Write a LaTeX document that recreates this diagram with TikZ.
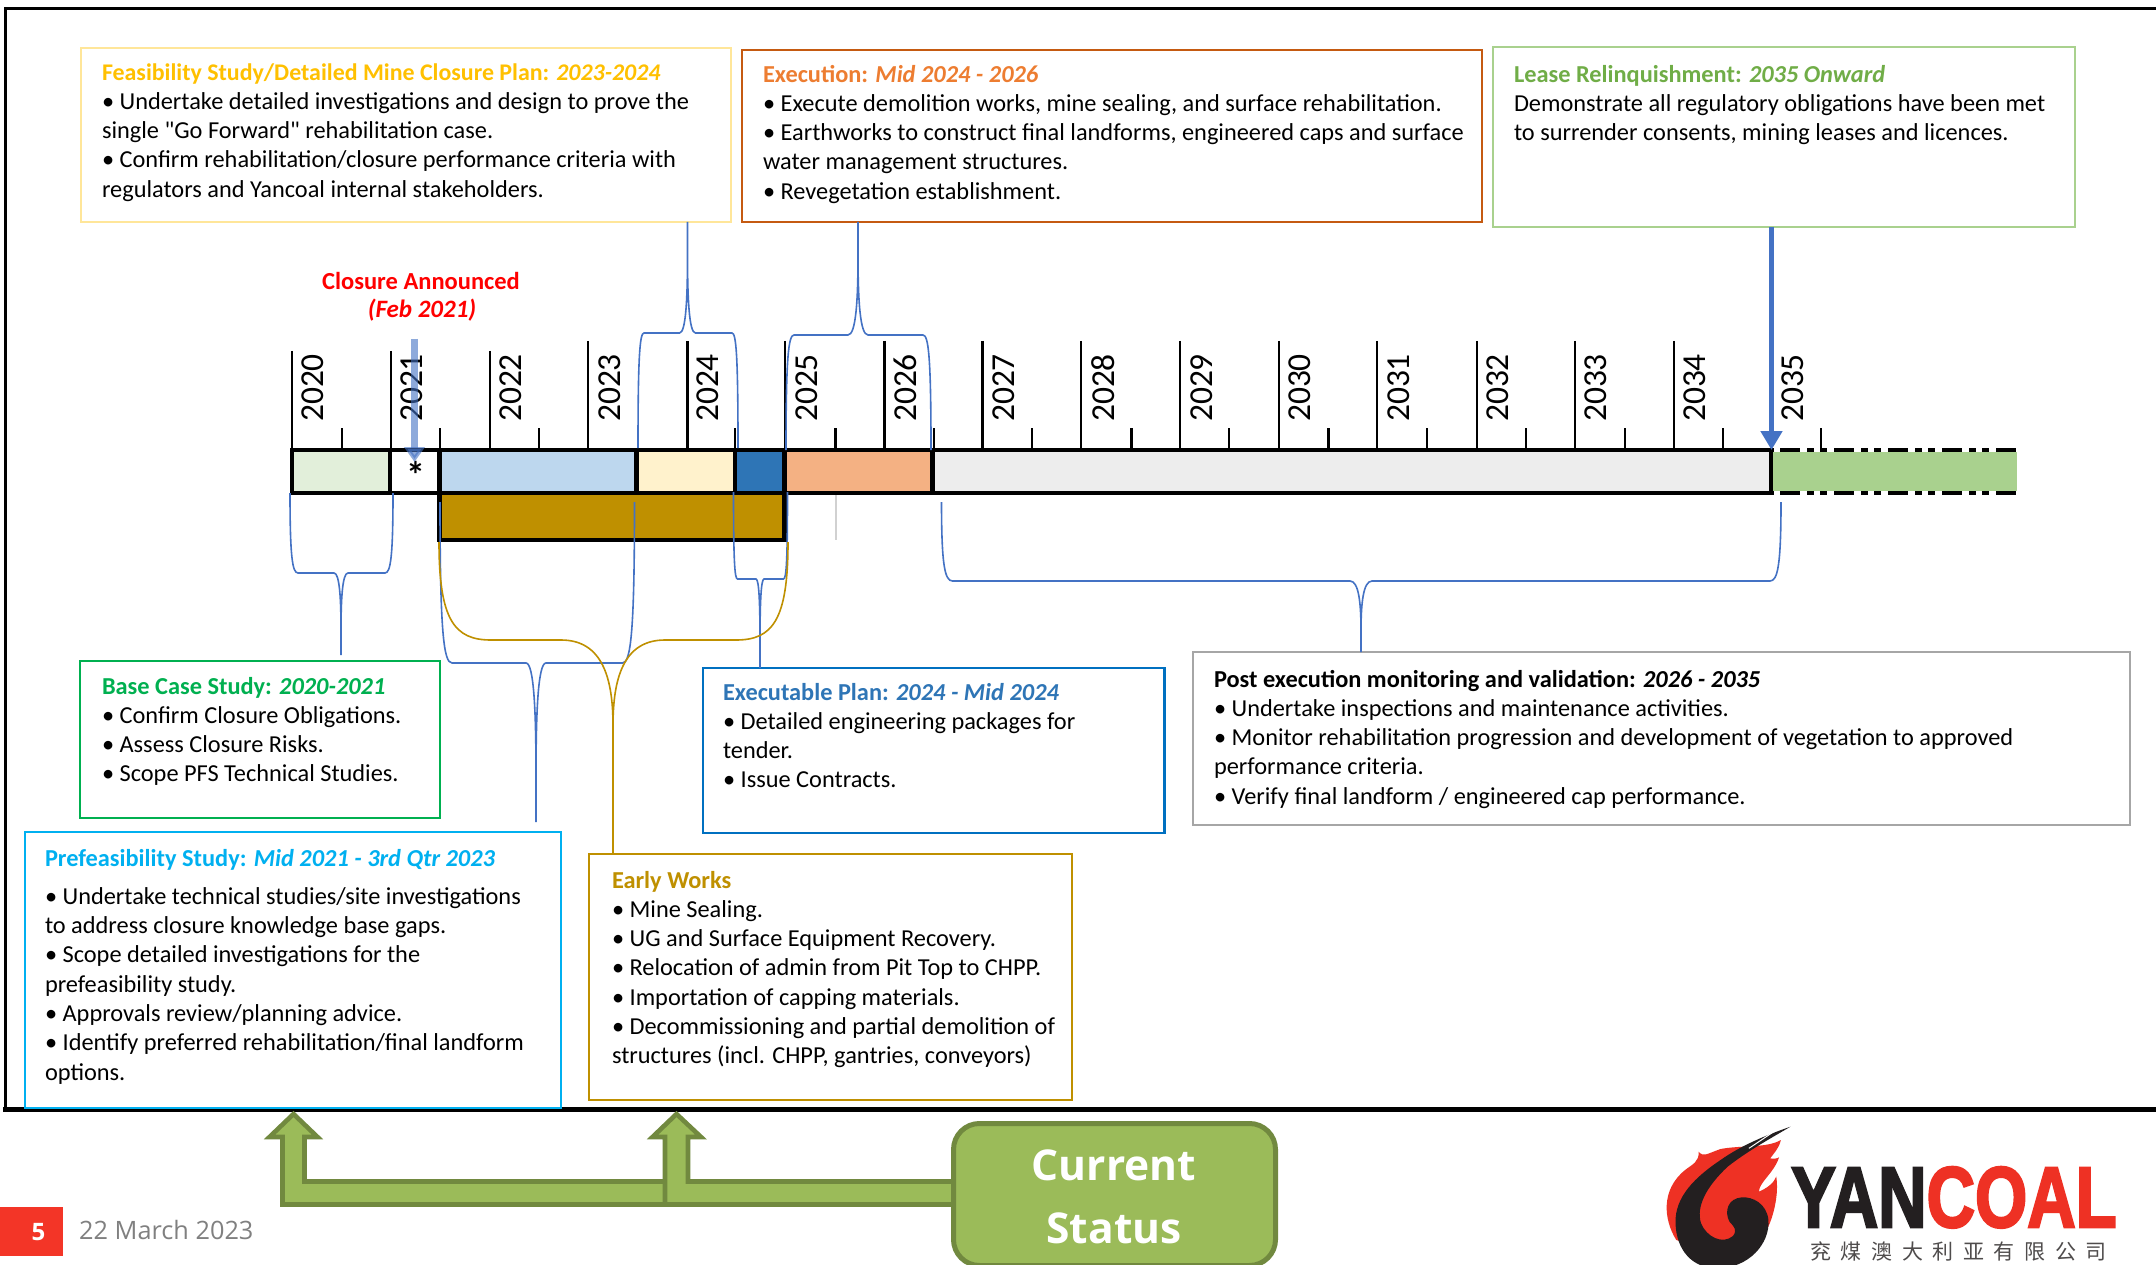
\documentclass[tikz,border=0pt]{standalone}
\usepackage{fontspec}
\setmainfont{Carlito}
\newfontfamily\plainq[Ligatures=ResetAll]{Carlito}
\newfontfamily\opensans{Open Sans}
\newfontfamily\logofont[FakeBold=3]{Liberation Sans Bold}
\newfontfamily\cjkfont[LetterSpace=46]{Noto Sans CJK SC}
\usetikzlibrary{arrows.meta,calc}
\definecolor{bluebrace}{HTML}{4472C4}
\definecolor{goldc}{HTML}{BF9000}
\definecolor{greenfill}{HTML}{9BBB59}
\definecolor{greenedge}{HTML}{71893F}
\definecolor{logored}{HTML}{EE3124}
\definecolor{logoblack}{HTML}{231F20}
\definecolor{segA}{HTML}{E2EFDA}
\definecolor{segB}{HTML}{BDD7EE}
\definecolor{segC}{HTML}{FFF2CC}
\definecolor{segD}{HTML}{2E75B6}
\definecolor{segE}{HTML}{F4B183}
\definecolor{segF}{HTML}{EDEDED}
\definecolor{segG}{HTML}{A9D18E}
\definecolor{edgeFeas}{HTML}{FFE699}
\definecolor{edgeExec}{HTML}{C55A11}
\definecolor{edgeBase}{HTML}{00B050}
\definecolor{edgePref}{HTML}{00B0F0}
\definecolor{edgePlan}{HTML}{0070C0}
\definecolor{edgePost}{HTML}{A6A6A6}
\definecolor{ttlFeas}{HTML}{FFC000}
\definecolor{ttlExec}{HTML}{ED7D31}
\definecolor{ttlLease}{HTML}{70AD47}
\definecolor{pagered}{HTML}{F33527}
\tikzset{
  phase/.style={rectangle,line width=2.6pt,fill=white,inner sep=0pt,outer sep=0pt},
  phasetext/.style={anchor=north west,align=left,inner sep=0pt,outer sep=0pt,font=\fontsize{24.35}{29.3}\selectfont},
  seg/.style={rectangle,draw=black,line width=4.6pt,inner sep=0pt,outer sep=0pt,minimum height=43pt},
  yearlabel/.style={rotate=90,anchor=center,inner sep=0pt,font=\fontsize{33.5}{33.5}\selectfont},
  tick/.style={line width=2.2pt,black},
  bracecurve/.style={line width=1.6pt,bluebrace},
  goldcurve/.style={line width=1.6pt,goldc},
  bentarrow/.style={fill=greenfill,draw=greenedge,line width=4.6pt,miter limit=10},
}
\newcommand{\phasebox}[6]{\node[phase,draw=#6,minimum width={#4-#2},minimum height={#5-#3},anchor=north west] (#1) at (#2,#3) {};}
\newcommand{\barseg}[4]{\node[seg,fill=#4,minimum width={#3-#2}] (#1) at ({(#2+#3)/2},471.5) {};}
% name, x1, x2, tip x, y1, ym, y tip, corner, tip half width
\newcommand{\tipfrac}{0.7}
\newcommand{\phasebrace}[9]{%
  \pgfmathsetmacro{\hA}{#6-#5}\pgfmathsetmacro{\hB}{#7-#6}%
  \pgfmathsetmacro{\cA}{#8}\pgfmathsetmacro{\kA}{#9}%
  \pgfmathsetmacro{\hE}{\tipfrac*\hB}\pgfmathsetmacro{\hC}{0.45*\hE}%
  \coordinate (#1a) at (#2,#5);\coordinate (#1b) at (#3,#5);\coordinate (#1t) at (#4,#7);%
  \draw[\bracestyle] (#1a) .. controls (#2,#5+0.8*\hA) and ({#2+0.3*\cA},#6) .. ({#2+\cA},#6)
    -- ({#4-\kA},#6) .. controls ({#4-0.2*\kA},#6) and (#4,#6+\hC) .. (#4,#6+\hE)
    -- (#1t) -- (#4,#6+\hE) .. controls (#4,#6+\hC) and ({#4+0.2*\kA},#6) .. ({#4+\kA},#6)
    -- ({#3-\cA},#6) .. controls ({#3-0.3*\cA},#6) and (#3,#5+0.8*\hA) .. (#1b);%
}
\newcommand{\bracestyle}{bracecurve}
\newcommand{\ttl}[3]{{\color{#1}\bfseries #2 \textit{#3}}}
\begin{document}
\begin{tikzpicture}[x=1pt,y=-1pt]
\useasboundingbox (0,0) rectangle (2156,1265);
\fill[white] (0,0) rectangle (2156,1265);
% frame
\draw[black,line width=3.4pt] (2156,8.5) -- (5.5,8.5) -- (5.5,1109);
\draw[black,line width=5pt] (3,1109) -- (2156,1109);

% ticks and year labels
\foreach \yr/\xx/\tp in {2020/292/351,2021/391/351,2022/490/351,2023/588/341,2024/687.5/341,2025/785/341,2026/884.5/341,2027/982.5/341,2028/1081/341,2029/1180/341,2030/1279/341,2031/1377/341,2032/1477/341,2033/1575/341,2034/1674/341}{
  \draw[tick] (\xx,\tp) -- (\xx,450);
}
\foreach \xx in {342,440,539,638,735,835.5,934,1032,1131.5,1229,1328.5,1427,1525.6,1625,1722.6,1821}{
  \draw[tick] (\xx,428) -- (\xx,450);
}
\foreach \yr/\xx in {2020/313,2021/412,2022/511,2023/610,2024/708,2025/807,2026/905,2027/1004,2028/1103,2029/1202,2030/1300,2031/1399,2032/1498,2033/1596,2034/1695,2035/1793}{
  \node[yearlabel] (y\yr) at (\xx,388) {\yr};
}

% timeline
\node[rectangle,fill=goldc,draw=black,line width=4.5pt,inner sep=0pt,outer sep=0pt,minimum width=345pt,minimum height=47pt] (goldbar) at (612,516.5) {};
\draw[line width=2pt,black!18] (835.5,495) -- (835.5,540);
\barseg{s2020}{292}{390}{segA}
\barseg{s2021}{390}{439.5}{white}
\barseg{s2022}{439.5}{636.5}{segB}
\barseg{s2023}{636.5}{735}{segC}
\barseg{s2024}{735}{784.5}{segD}
\barseg{s2025}{784.5}{932.5}{segE}
\barseg{s2027}{932.5}{1771.5}{segF}
\fill[segG] (1773,452) rectangle (2017,491);
\draw[line width=4.5pt,dash pattern=on 20pt off 7pt on 7pt off 6pt on 7pt off 7pt] (1780,450) -- (2017,450);
\draw[line width=4.5pt,dash pattern=on 20pt off 7pt on 7pt off 6pt on 7pt off 7pt] (1780,493) -- (2017,493);
\node[font=\fontsize{38}{38}\selectfont\bfseries,inner sep=0pt] (star) at (416,475) {*};

% phase boxes
\phasebox{feas}{81}{48}{731}{222}{edgeFeas}
\phasebox{exec}{742}{50}{1482}{222}{edgeExec}
\phasebox{lease}{1493}{47}{2075}{227}{segG}
\phasebox{base}{80}{661}{440}{818}{edgeBase}
\phasebox{pref}{25}{832}{561}{1108}{edgePref}
\phasebox{early}{589}{854}{1072}{1100}{goldc}
\phasebox{plan}{703}{668}{1164.5}{833}{edgePlan}
\phasebox{post}{1193}{652}{2130}{825}{edgePost}

% braces
\phasebrace{bb}{290}{393}{341}{493}{573}{655}{8}{7}
\phasebrace{bp}{440}{634.5}{536}{502}{663}{822}{12}{10}
\phasebrace{bx}{733.5}{787.5}{760}{492}{579}{668}{4}{4}
\phasebrace{bm}{941.5}{1781}{1361}{502}{581}{652}{11}{11}
\phasebrace{bf}{638}{738}{687.5}{448}{333}{222}{6}{8}
\phasebrace{be}{786}{931}{858}{450}{335}{222}{8}{10}
\renewcommand{\bracestyle}{goldcurve}
\renewcommand{\tipfrac}{0.4}
\phasebrace{bg}{439}{788}{613}{542}{640}{854}{52}{52}

% lease arrow and closure arrow
\coordinate (leasearrow) at (1771.5,450);
\coordinate (leasefoot) at (1771.5,227);
\draw[-{Triangle[length=19pt,width=21pt]},line width=5pt,bluebrace] (leasefoot) -- (leasearrow);
\coordinate (closetop) at (414.5,339);
\coordinate (closetip) at (414.5,462);
\draw[-{Triangle[length=15pt,width=20pt]},line width=6.5pt,bluebrace,opacity=0.6] (closetop) -- (closetip);

% text
\node[anchor=center,inner sep=0pt,text=red,font=\fontsize{24.5}{24.5}\selectfont\bfseries] (closure) at (421,281) {Closure Announced};
\node[anchor=center,inner sep=0pt,text=red,font=\fontsize{25}{25}\selectfont\bfseries\itshape] (closedate) at (422,310) {(Feb 2021)};

\node[phasetext] (feast) at (102,59.5) {\strut\ttl{ttlFeas}{\fontsize{23.9}{29.3}\selectfont Feasibility Study/Detailed Mine Closure Plan:}{2023-2024}\\
• Undertake detailed investigations and design to prove the\\
single {\plainq"}Go Forward{\plainq"} rehabilitation case.\\
• Confirm rehabilitation/closure performance criteria with\\
regulators and Yancoal internal stakeholders.};

\node[phasetext] (exect) at (763,61.5) {\strut\ttl{ttlExec}{Execution:}{Mid 2024 - 2026}\\
• Execute demolition works, mine sealing, and surface rehabilitation.\\
• Earthworks to construct final landforms, engineered caps and surface\\
water management structures.\\
• Revegetation establishment.};

\node[phasetext] (leaset) at (1514,61.5) {\strut\ttl{ttlLease}{Lease Relinquishment:}{2035 Onward}\\
Demonstrate all regulatory obligations have been met\\
to surrender consents, mining leases and licences.};

\node[phasetext] (baset) at (102,673.5) {\strut\ttl{edgeBase}{Base Case Study:}{2020-2021}\\
• Confirm Closure Obligations.\\
• Assess Closure Risks.\\
• Scope PFS Technical Studies.};

\node[phasetext] (preft) at (45,845.5) {\strut\ttl{edgePref}{Prefeasibility Study:}{Mid 2021 - 3rd Qtr 2023}\\[9pt]
• Undertake technical studies/site investigations\\
to address closure knowledge base gaps.\\
• Scope detailed investigations for the\\
prefeasibility study.\\
• Approvals review/planning advice.\\
• Identify preferred rehabilitation/final landform\\
options.};

\node[phasetext] (earlyt) at (612,867.5) {\strut{\color{goldc}\bfseries Early Works}\\
• Mine Sealing.\\
• UG and Surface Equipment Recovery.\\
• Relocation of admin from Pit Top to CHPP.\\
• Importation of capping materials.\\
• Decommissioning and partial demolition of\\
structures (incl. CHPP, gantries, conveyors)};

\node[phasetext] (plant) at (723,679.5) {\strut\ttl{segD}{Executable Plan:}{2024 - Mid 2024}\\
• Detailed engineering packages for\\
tender.\\
• Issue Contracts.};

\node[phasetext] (postt) at (1214,666.5) {\strut\ttl{black}{Post execution monitoring and validation:}{2026 - 2035}\\
• Undertake inspections and maintenance activities.\\
• Monitor rehabilitation progression and development of vegetation to approved\\
performance criteria.\\
• Verify final landform / engineered cap performance.};

% current status arrows
\draw[bentarrow] (700,1204.5) -- (282.5,1204.5) -- (282.5,1137) -- (269.5,1137) -- (293.5,1114) -- (317.5,1137) -- (304.5,1137) -- (304.5,1181.5) -- (700,1181.5) -- cycle;
\draw[bentarrow] (960,1204.5) -- (665,1204.5) -- (665,1137) -- (652.5,1137) -- (676.5,1114) -- (701,1137) -- (688,1137) -- (688,1181.5) -- (960,1181.5) -- cycle;
\node[rectangle,rounded corners=26pt,fill=greenfill,draw=greenedge,line width=5pt,minimum width=322pt,minimum height=142pt,inner sep=0pt,anchor=north west] (status) at (951,1121) {};
\node[inner sep=0pt,text=white,font=\opensans\bfseries\fontsize{42.5}{42.5}\selectfont] (statusa) at (1114,1165) {Current};
\node[inner sep=0pt,text=white,font=\opensans\bfseries\fontsize{42.5}{42.5}\selectfont] (statusb) at (1114,1228) {Status};

% footer
\node[rectangle,fill=pagered,minimum width=63pt,minimum height=49pt,inner sep=0pt,anchor=north west] (pagebox) at (0,1207) {};
\node[inner sep=0pt,text=white,font=\opensans\bfseries\fontsize{24}{24}\selectfont] (pagenum) at (38.5,1232) {5};
\node[inner sep=0pt,anchor=west,text=black!50,font=\opensans\fontsize{25.3}{25.3}\selectfont] (datet) at (79,1230) {22 March 2023};

% logo
\begin{scope}[shift={(1600,1080)},x=0.3546pt,y=-0.3333pt]
\fill[logored] (215,480) .. controls (180,420) and (170,330) .. (240,270) .. controls (262,252) and (280,245) .. (278,215)
  .. controls (292,232) and (300,222) .. (340,207) .. controls (400,195) and (470,205) .. (510,180)
  .. controls (505,205) and (490,220) .. (480,235) .. controls (490,238) and (500,235) .. (505,232)
  .. controls (490,280) and (450,305) .. (448,335) .. controls (470,325) and (490,310) .. (497,290)
  .. controls (505,340) and (490,410) .. (470,450) -- (300,510) -- cycle;
\fill[logoblack] (537,140) .. controls (470,165) and (400,195) .. (340,240) .. controls (270,290) and (210,350) .. (213,430)
  .. controls (215,510) and (260,565) .. (330,565) .. controls (420,565) and (480,490) .. (475,420)
  .. controls (470,370) and (430,350) .. (400,352) .. controls (360,355) and (350,395) .. (365,425)
  .. controls (378,440) and (388,450) .. (375,468) .. controls (345,495) and (300,470) .. (285,430)
  .. controls (270,380) and (300,320) .. (360,260) .. controls (420,210) and (490,170) .. (537,140) -- cycle;
\draw[white,line width=1pt] (420,205) -- (497,150);
\end{scope}
\node[inner sep=0pt,anchor=base west,xscale=0.78,font=\logofont\fontsize{86}{86}\selectfont] (logotext) at (1791,1227) {{\color{logoblack}YAN}{\color{logored}COAL}};
\node[inner sep=0pt,anchor=center,text=logoblack!80,font=\cjkfont\fontsize{21}{21}\selectfont] (logocjk) at (1958.5,1251) {兖煤澳大利亚有限公司};
\end{tikzpicture}
\end{document}
